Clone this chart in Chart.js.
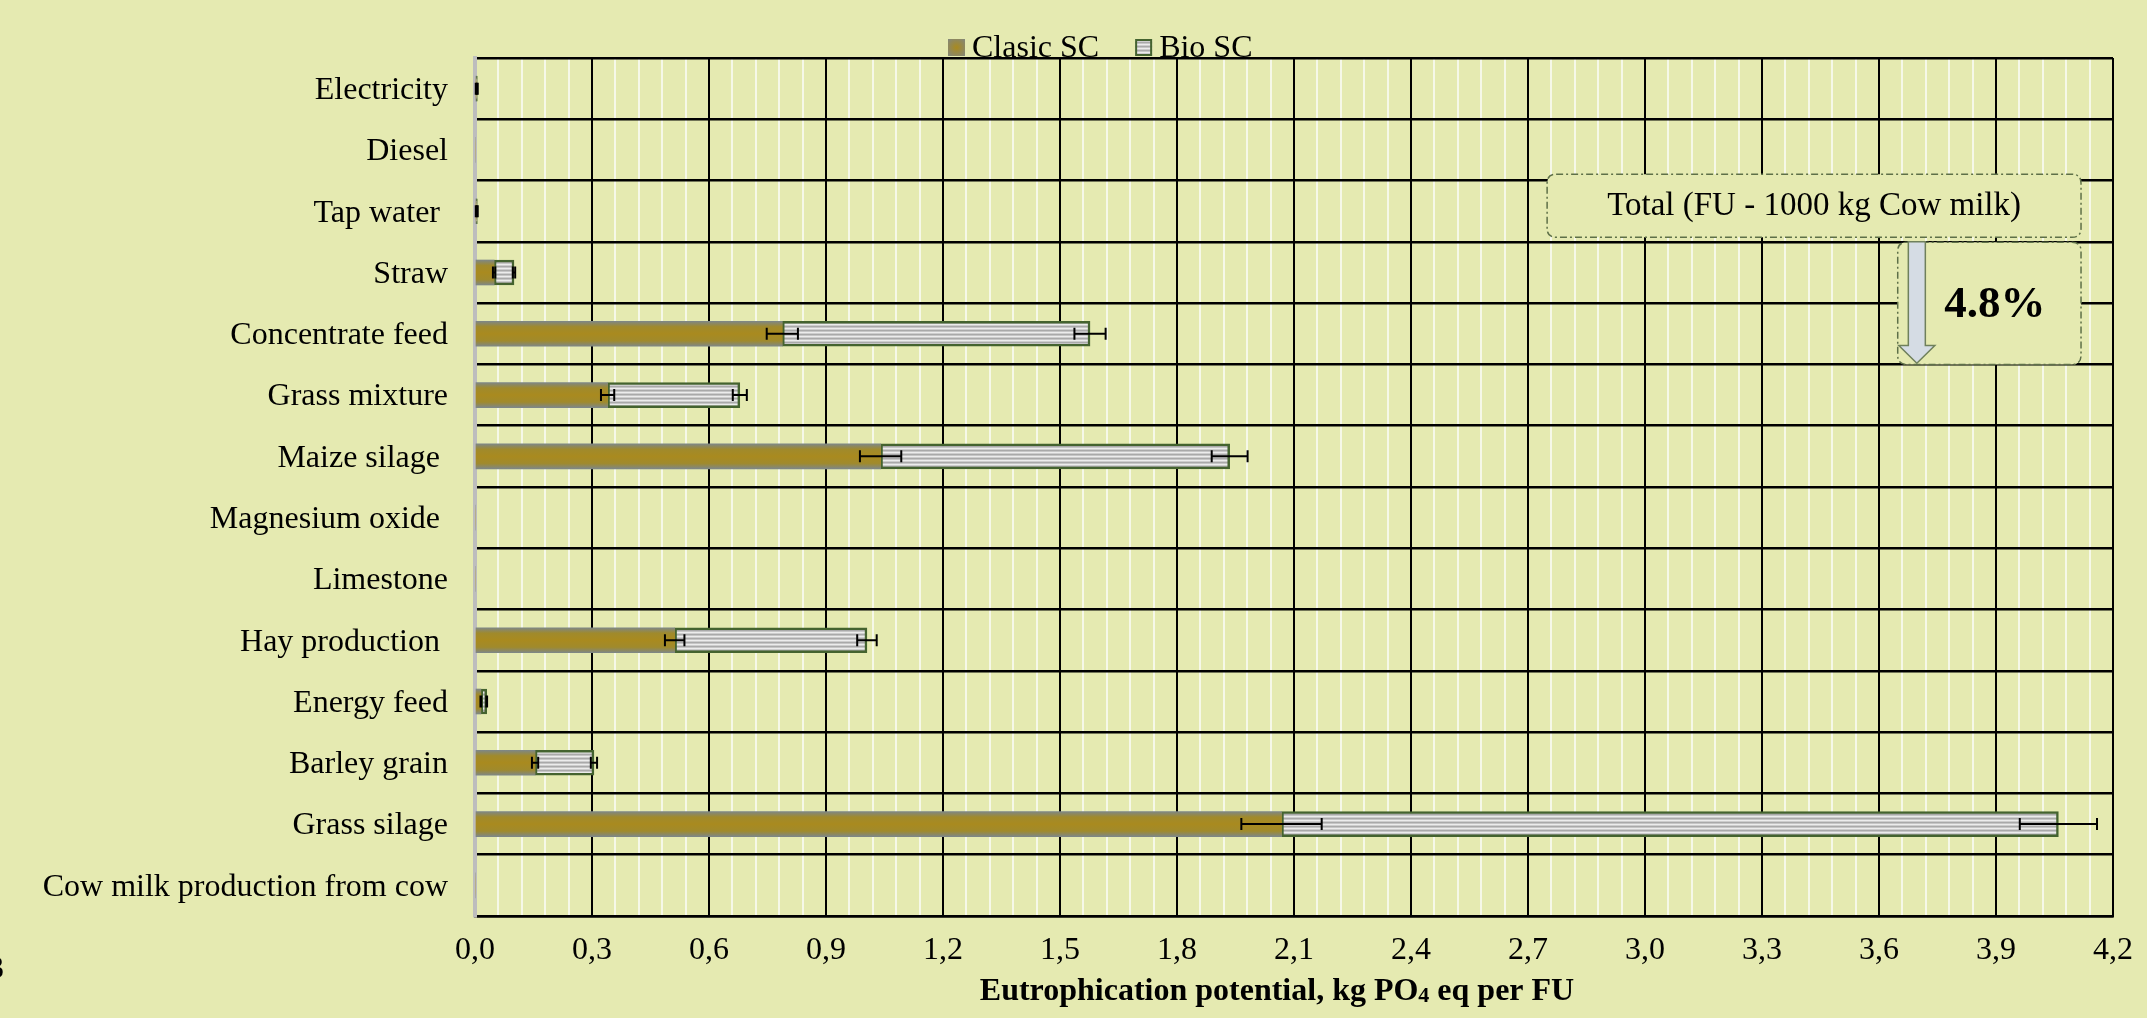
<!DOCTYPE html>
<html><head><meta charset="utf-8">
<script src="https://cdn.jsdelivr.net/npm/chart.js@4.4.1/dist/chart.umd.min.js"></script>
<style>html,body{margin:0;padding:0;background:#E5EAB1;overflow:hidden}canvas{display:block}</style>
</head><body>
<canvas id="c" width="2147" height="1018"></canvas>
<script>
// ---------- data ----------
const categories = ['Electricity','Diesel','Tap water ','Straw','Concentrate feed','Grass mixture','Maize silage ','Magnesium oxide ','Limestone','Hay production ','Energy feed','Barley grain','Grass silage','Cow milk production from cow'];
const seriesNames = ['Clasic SC','Bio SC'];
const clasicSC = [0.003, 0, 0.003, 0.049, 0.788, 0.340, 1.040, 0, 0, 0.512, 0.015, 0.154, 2.068, 0];
const bioSC    = [0.003, 0, 0.003, 0.051, 0.789, 0.339, 0.895, 0, 0, 0.493, 0.015, 0.151, 1.992, 0];
const clasicErr = [0.001, 0, 0.001, 0.003, 0.040, 0.017, 0.053, 0, 0, 0.025, 0.001, 0.008, 0.103, 0];
const bioErr    = [0.001, 0, 0.001, 0.003, 0.040, 0.018, 0.046, 0, 0, 0.025, 0.001, 0.008, 0.099, 0];
const xTickLabels = ['0,0','0,3','0,6','0,9','1,2','1,5','1,8','2,1','2,4','2,7','3,0','3,3','3,6','3,9','4,2'];
const axisTitleParts = ['Eutrophication potential, kg PO', '4', ' eq per FU'];
const annotationTitle = 'Total (FU - 1000 kg Cow milk)';
const annotationValue = '4.8%';

// ---------- styling ----------
const BG = '#E5EAB1';
const FONT = 'Liberation Serif';
const X_MAX = 4.2, MINOR = 0.06, PER_MAJOR = 5;
const BAR_T = 25;

const canvas = document.getElementById('c');
const mctx = canvas.getContext('2d');

function makeStripe(){
  const c = document.createElement('canvas'); c.width = 8; c.height = 4;
  const g = c.getContext('2d');
  ['#ECECEC','#CDCDCD','#A9A9A9','#C6C6C6'].forEach((col,i)=>{ g.fillStyle = col; g.fillRect(0,i,8,1); });
  return mctx.createPattern(c, 'repeat');
}
const stripe = makeStripe();

function clasicFill(ctx){
  const chart = ctx.chart;
  const y = chart.scales && chart.scales.y;
  if (!chart.chartArea || !y || ctx.type !== 'data') return '#A88A22';
  const yc = y.getPixelForValue(ctx.dataIndex);
  const g = chart.ctx.createLinearGradient(0, yc - BAR_T/2, 0, yc + BAR_T/2);
  g.addColorStop(0, '#7E8786');
  g.addColorStop(0.22, '#A08A2C');
  g.addColorStop(0.5, '#A98A1F');
  g.addColorStop(0.78, '#A08A2C');
  g.addColorStop(1, '#7E8786');
  return g;
}

// ---------- plugins ----------
const bgPlugin = { id:'bg', beforeDraw(chart){ const c = chart.ctx; c.save(); c.fillStyle = BG; c.fillRect(0,0,chart.width,chart.height); c.restore(); } };

const errorBars = { id:'errorBars', afterDatasetsDraw(chart){
  const {ctx, scales:{x,y}} = chart;
  ctx.save(); ctx.strokeStyle = '#000'; ctx.lineWidth = 2;
  const draw = (v, e, i) => {
    if (!(e > 0)) return;
    const yc = y.getPixelForValue(i);
    const x1 = x.getPixelForValue(v - e), x2 = x.getPixelForValue(v + e);
    ctx.beginPath();
    ctx.moveTo(x1, yc); ctx.lineTo(x2, yc);
    ctx.moveTo(x1, yc - 6); ctx.lineTo(x1, yc + 6);
    ctx.moveTo(x2, yc - 6); ctx.lineTo(x2, yc + 6);
    ctx.stroke();
  };
  categories.forEach((c, i) => { draw(clasicSC[i], clasicErr[i], i); draw(clasicSC[i] + bioSC[i], bioErr[i], i); });
  ctx.restore();
}};

function roundRect(c, x, y, w, h, r){
  c.beginPath();
  c.moveTo(x + r, y); c.lineTo(x + w - r, y); c.quadraticCurveTo(x + w, y, x + w, y + r);
  c.lineTo(x + w, y + h - r); c.quadraticCurveTo(x + w, y + h, x + w - r, y + h);
  c.lineTo(x + r, y + h); c.quadraticCurveTo(x, y + h, x, y + h - r);
  c.lineTo(x, y + r); c.quadraticCurveTo(x, y, x + r, y); c.closePath();
}

const annotations = { id:'annot', afterDraw(chart){
  const {ctx, scales:{x,y}} = chart;
  ctx.save();
  const b1x1 = x.getPixelForValue(2.749), b1x2 = x.getPixelForValue(4.118);
  const b1y1 = y.getPixelForValue(1.397), b1y2 = y.getPixelForValue(2.425);
  const b2x1 = x.getPixelForValue(3.648), b2x2 = x.getPixelForValue(4.118);
  const b2y1 = y.getPixelForValue(2.506), b2y2 = y.getPixelForValue(4.50);
  ctx.setLineDash([7,3,2,3]); ctx.lineWidth = 1.5; ctx.strokeStyle = '#5E7048';
  ctx.fillStyle = BG;
  roundRect(ctx, b1x1, b1y1, b1x2 - b1x1, b1y2 - b1y1, 9); ctx.fill(); ctx.stroke();
  roundRect(ctx, b2x1, b2y1, b2x2 - b2x1, b2y2 - b2y1, 9); ctx.fill(); ctx.stroke();
  ctx.setLineDash([]);
  const ax = x.getPixelForValue(3.697);
  const sw = 8.5, hw = 18;
  const at = y.getPixelForValue(2.5), ah = y.getPixelForValue(4.19), tip = y.getPixelForValue(4.48);
  ctx.beginPath();
  ctx.moveTo(ax - sw, at); ctx.lineTo(ax + sw, at); ctx.lineTo(ax + sw, ah); ctx.lineTo(ax + hw, ah);
  ctx.lineTo(ax, tip); ctx.lineTo(ax - hw, ah); ctx.lineTo(ax - sw, ah); ctx.closePath();
  ctx.fillStyle = '#D5DCE4'; ctx.fill(); ctx.strokeStyle = '#6F805C'; ctx.lineWidth = 1.5; ctx.stroke();
  ctx.fillStyle = '#000'; ctx.textAlign = 'center'; ctx.textBaseline = 'middle';
  ctx.font = '33px "' + FONT + '"';
  ctx.fillText(annotationTitle, (b1x1 + b1x2) / 2, (b1y1 + b1y2) / 2 + 1);
  ctx.font = 'bold 45px "' + FONT + '"';
  ctx.fillText(annotationValue, x.getPixelForValue(3.897), y.getPixelForValue(3.534));
  ctx.restore();
}};

const legendPlugin = { id:'customLegend', afterDraw(chart){
  const ctx = chart.ctx;
  ctx.save();
  ctx.font = '32px "' + FONT + '"';
  ctx.textBaseline = 'alphabetic'; ctx.textAlign = 'left';
  let xp = 948; const by = 39, bs = 17, base = 57;
  seriesNames.forEach((name, i) => {
    if (i === 0) {
      const g = ctx.createRadialGradient(xp + bs/2, by + bs/2, 1, xp + bs/2, by + bs/2, bs/1.3);
      g.addColorStop(0, '#A68A25'); g.addColorStop(1, '#7E8786');
      ctx.fillStyle = g; ctx.fillRect(xp, by, bs, bs);
    } else {
      ctx.fillStyle = stripe; ctx.fillRect(xp, by, bs, bs);
      ctx.strokeStyle = '#44632F'; ctx.lineWidth = 2; ctx.strokeRect(xp + 1, by + 1, bs - 2, bs - 2);
    }
    ctx.fillStyle = '#000';
    ctx.fillText(name, xp + bs + 7, base);
    xp += bs + 7 + ctx.measureText(name).width + 36;
  });
  ctx.restore();
}};

const axisTitle = { id:'axisTitle', afterDraw(chart){
  const ctx = chart.ctx;
  ctx.save();
  ctx.fillStyle = '#000'; ctx.textBaseline = 'alphabetic'; ctx.textAlign = 'left';
  const big = 'bold 32px "' + FONT + '"', small = 'bold 22px "' + FONT + '"';
  const fonts = [big, small, big];
  let w = 0; const widths = axisTitleParts.map((t, i) => { ctx.font = fonts[i]; const m = ctx.measureText(t).width; w += m; return m; });
  let xp = 1277 - w / 2; const base = 1000;
  axisTitleParts.forEach((t, i) => { ctx.font = fonts[i]; ctx.fillText(t, xp, i === 1 ? base + 2 : base); xp += widths[i]; });
  ctx.font = '32px "' + FONT + '"';
  ctx.fillText('3', -12, 978);
  ctx.restore();
}};

// ---------- chart ----------
new Chart(canvas, {
  type: 'bar',
  data: {
    labels: categories,
    datasets: [
      { label: seriesNames[0], data: clasicSC, backgroundColor: clasicFill, borderWidth: 0, barThickness: BAR_T },
      { label: seriesNames[1], data: bioSC, backgroundColor: stripe, borderColor: '#44632F', borderWidth: 2.5, borderSkipped: false, barThickness: BAR_T }
    ]
  },
  options: {
    indexAxis: 'y',
    responsive: false,
    animation: false,
    devicePixelRatio: 1,
    layout: { padding: { top: 58, right: 34, left: 0, bottom: 0 } },
    plugins: { legend: { display: false }, tooltip: { enabled: false } },
    scales: {
      x: {
        stacked: true, min: 0, max: X_MAX,
        grid: {
          drawTicks: false,
          color: (c) => { const k = Math.round(c.tick.value / MINOR); if (k === 0) return 'rgba(0,0,0,0)'; return k % PER_MAJOR === 0 ? '#000' : '#F6F8E8'; },
          lineWidth: 2
        },
        border: { color: '#000', width: 2.5 },
        ticks: {
          stepSize: MINOR, autoSkip: false, maxRotation: 0, minRotation: 0,
          callback: (v) => { const k = Math.round(v / MINOR); return k % PER_MAJOR === 0 ? xTickLabels[k / PER_MAJOR] : ''; },
          color: '#000', font: { family: FONT, size: 32 }, padding: 15
        },
        afterFit(s) { s.height = 102; s.paddingRight = 0; s.paddingLeft = 0; }
      },
      y: {
        stacked: true,
        grid: { offset: true, drawTicks: false, color: '#000', lineWidth: 2.5 },
        border: { color: '#BDBDBD', width: 4 },
        ticks: { color: '#000', font: { family: FONT, size: 32 }, padding: 27, labelOffset: 2 },
        afterFit(s) { s.width = 475; }
      }
    }
  },
  plugins: [bgPlugin, errorBars, annotations, legendPlugin, axisTitle]
});
</script>
</body></html>
